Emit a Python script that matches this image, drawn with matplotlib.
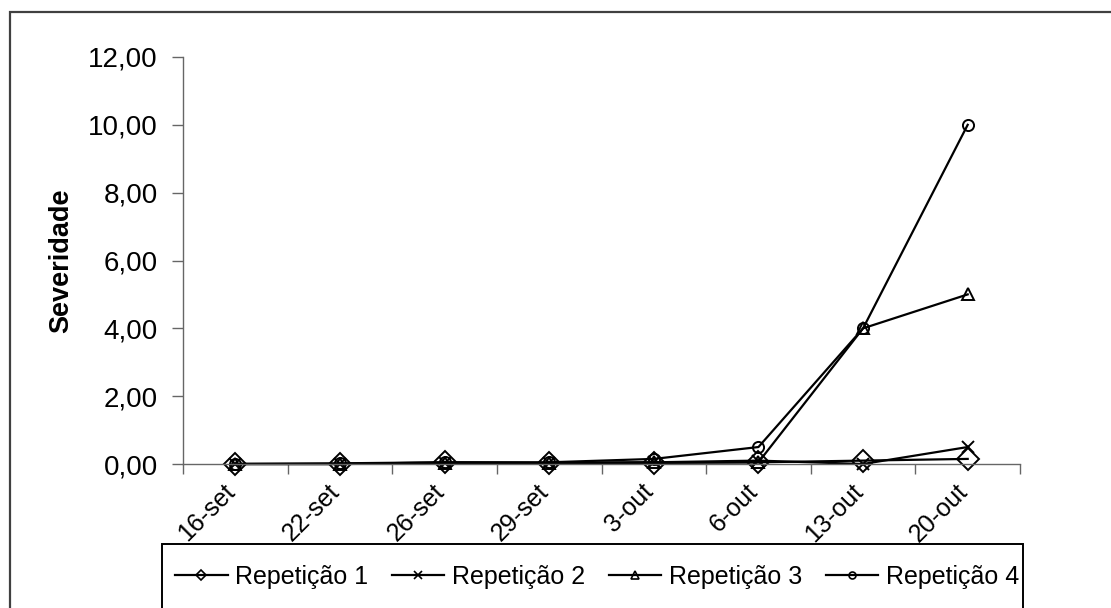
import matplotlib.pyplot as plt
from matplotlib.patches import Rectangle
from matplotlib.ticker import FuncFormatter, FixedLocator
from matplotlib.transforms import ScaledTranslation

plt.rcParams['font.family'] = ['Liberation Sans', 'DejaVu Sans']

datas = ['16-set', '22-set', '26-set', '29-set', '3-out', '6-out', '13-out', '20-out']
rep1 = [0.00, 0.00, 0.05, 0.03, 0.03, 0.05, 0.10, 0.15]
rep2 = [0.00, 0.00, 0.02, 0.03, 0.05, 0.10, 0.00, 0.50]
rep3 = [0.00, 0.00, 0.03, 0.03, 0.05, 0.05, 4.00, 5.00]
rep4 = [0.00, 0.02, 0.05, 0.05, 0.15, 0.50, 4.00, 10.00]
y_ticks = [0, 2, 4, 6, 8, 10, 12]

fig = plt.figure(figsize=(11.11, 6.08), dpi=100)
ax = fig.add_axes([183 / 1111, 1 - 464 / 608, (1020 - 183) / 1111, (464 - 57) / 608])

x = list(range(len(datas)))
# (values, marker, size in plot, size in legend, label)
series = [
    (rep1, 'D', 11.5, 5.5, 'Repetição 1'),
    (rep2, 'x', 9.0, 6.0, 'Repetição 2'),
    (rep3, '^', 8.5, 5.5, 'Repetição 3'),
    (rep4, 'o', 8.0, 5.0, 'Repetição 4'),
]
for vals, mk, ms, _, lab in series:
    ax.plot(x, vals, color='black', lw=1.6, marker=mk, markersize=ms,
            markerfacecolor='none', markeredgecolor='black', markeredgewidth=1.4,
            label=lab, clip_on=False)

ax.set_xlim(-0.5, len(datas) - 0.5)
ax.set_ylim(0, 12)

# ticks between categories, labels centred on categories
ax.xaxis.set_major_locator(FixedLocator([i - 0.5 for i in range(len(datas) + 1)]))
ax.set_xticklabels([], minor=False)
ax.set_xticks(x, datas, minor=True)
ax.tick_params(axis='x', which='major', direction='out', length=7, width=1, color='#666666')
ax.tick_params(axis='x', which='minor', length=0, pad=17, labelsize=18)
shift = ScaledTranslation(-4 / 100, 0, fig.dpi_scale_trans)
for t in ax.get_xticklabels(minor=True):
    t.set_rotation(45)
    t.set_ha('right')
    t.set_va('center')
    t.set_rotation_mode('anchor')
    t.set_transform(t.get_transform() + shift)

ax.set_yticks(y_ticks)
ax.yaxis.set_major_formatter(FuncFormatter(lambda v, p: f'{v:.2f}'.replace('.', ',')))
ax.tick_params(axis='y', direction='out', length=8, width=1, color='#666666',
               labelsize=20, pad=10)

for s in ['top', 'right']:
    ax.spines[s].set_visible(False)
for s in ['left', 'bottom']:
    ax.spines[s].set_color('#666666')
    ax.spines[s].set_linewidth(1)

ax.set_ylabel('Severidade', fontsize=19.5, fontweight='bold', labelpad=10)

# outer chart frame
fig.patches.append(Rectangle((10 / 1111, -0.1), 1.2, 1.1 - 12 / 608, transform=fig.transFigure,
                             fill=False, edgecolor='#404040', lw=1.6))
# legend frame
fig.patches.append(Rectangle((162 / 1111, -0.1), (1023 - 162) / 1111, 0.1 + 1 - 544 / 608,
                             transform=fig.transFigure, fill=False, edgecolor='black', lw=1.4))

leg = fig.legend(loc='center left', bbox_to_anchor=(175 / 1111, 1 - 577 / 608), ncol=4,
                 frameon=False, fontsize=18, handlelength=2.1,
                 handletextpad=0.3, columnspacing=0.95, borderpad=0, borderaxespad=0)
for h, s in zip(leg.legend_handles, series):
    h.set_markersize(s[3])
    h.set_markeredgewidth(1.2)

fig.savefig('out.png', dpi=100)
